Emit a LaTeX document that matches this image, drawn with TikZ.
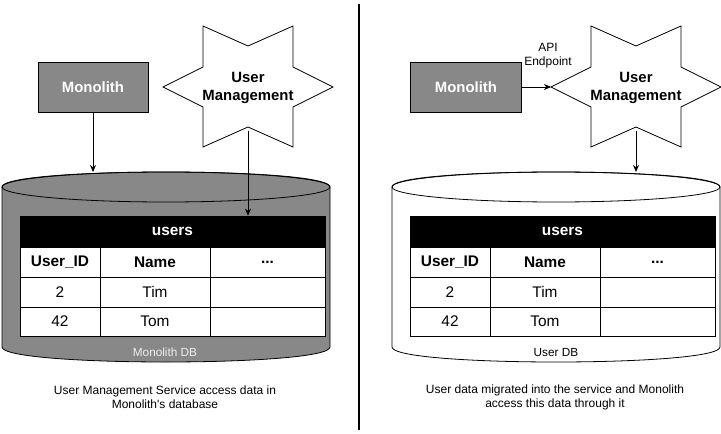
\documentclass[tikz,border=0pt]{standalone}
\usepackage{fontspec}
\setmainfont{Liberation Sans}
\usetikzlibrary{arrows.meta}
\definecolor{mgray}{RGB}{136,136,136}
\definecolor{dblabel}{RGB}{238,238,238}

\newcommand\mytable[2]{%
\begin{scope}[shift={(#2,0)}]
 \node[hdrcell, minimum width=305pt, minimum height=31pt] (#1hdr) at (172.5,231.5) {users};
 \node[cell, minimum width=80pt, minimum height=30pt, font=\tabfont\bfseries] (#1c11) at (60,262) {User\_ID};
 \node[cell, minimum width=110pt, minimum height=30pt, font=\tabfont\bfseries] (#1c12) at (155,262) {Name};
 \node[cell, minimum width=115pt, minimum height=30pt, font=\tabfont\bfseries] (#1c13) at (267.5,262) {...};
 \node[cell, minimum width=80pt, minimum height=30pt] (#1c21) at (60,292) {2};
 \node[cell, minimum width=110pt, minimum height=30pt] (#1c22) at (155,292) {Tim};
 \node[cell, minimum width=115pt, minimum height=30pt] (#1c23) at (267.5,292) {};
 \node[cell, minimum width=80pt, minimum height=29pt] (#1c31) at (60,321.5) {42};
 \node[cell, minimum width=110pt, minimum height=29pt] (#1c32) at (155,321.5) {Tom};
 \node[cell, minimum width=115pt, minimum height=29pt] (#1c33) at (267.5,321.5) {};
\end{scope}}

\newcommand\mycyl[3]{%
\begin{scope}[shift={(#2,0)}]
 \draw[fill=#3] (2,187) -- (2,347) .. controls (2,367) and (330,367) .. (330,347)
   -- (330,187) .. controls (330,167) and (2,167) .. (2,187) -- cycle;
 \draw (166,187) ellipse [x radius=164, y radius=15];
 \coordinate (#1top) at (166,172);
\end{scope}}

\newcommand\mystar[2]{%
\begin{scope}[shift={(#2,87)}]
 \draw[fill=white] (-45,-61) -- (0,-41) -- (45,-61) -- (45,-20) -- (85,0) -- (45,20)
   -- (45,60) -- (0,40) -- (-45,60) -- (-45,20) -- (-85,0) -- (-45,-20) -- cycle;
 \coordinate (#1left) at (-85,0);
 \coordinate (#1bot) at (0,44);
\end{scope}}

\newcommand\tabfont{\fontsize{15.4}{18}\selectfont}

\begin{document}
\begin{tikzpicture}[x=1pt,y=-1pt, line width=0.8pt,
  arr/.style={-{Stealth[length=7pt,width=6pt]}, line width=0.8pt},
  monobox/.style={draw, fill=mgray, text=white, font=\fontsize{14.9}{17}\selectfont\bfseries,
    minimum height=50pt, inner sep=0pt},
  startext/.style={font=\fontsize{14.9}{18}\selectfont\bfseries, align=center},
  cell/.style={draw, fill=white, inner sep=0pt, font=\tabfont},
  hdrcell/.style={draw, fill=black, text=white, inner sep=0pt, font=\tabfont\bfseries},
  caption/.style={font=\fontsize{12}{14}\selectfont, align=center},
  dbtext/.style={font=\fontsize{11.8}{14}\selectfont}
]
\useasboundingbox (0,0) rectangle (721,434);
\fill[white] (0,0) rectangle (721,434);

% ---------- left ----------
\mycyl{cylL}{0}{mgray}
\mytable{L}{0}
\node[dbtext, text=dblabel] (dbL) at (165,352) {Monolith DB};
\node[monobox, minimum width=110pt] (monoL) at (93,87) {Monolith};
\mystar{starL}{248}
\node[startext] (umL) at (248,88) {User\\Management};
\draw[arr] (monoL.south) -- (monoL.south |- cylLtop);
\draw[arr] (starLbot) -- (starLbot |- Lhdr.north);
\node[caption] (capL) at (165,397) {User Management Service access data in\\Monolith\textquotesingle s database};

% ---------- divider ----------
\coordinate (divT) at (359,4);
\coordinate (divB) at (359,430);
\draw[line width=2pt] (divT) -- (divB);

% ---------- right ----------
\mycyl{cylR}{390}{white}
\mytable{R}{390}
\node[dbtext] (dbR) at (556,352) {User DB};
\node[monobox, minimum width=111pt] (monoR) at (466,87) {Monolith};
\mystar{starR}{636}
\node[startext] (umR) at (636,88) {User\\Management};
\draw[arr] (monoR.east) -- (starRleft);
\node[caption] (api) at (548,56) {API\\Endpoint};
\draw[arr] (starRbot) -- (starRbot |- cylRtop);
\node[caption] (capR) at (555,397) {User data migrated into the service and Monolith\\access this data through it};
\end{tikzpicture}
\end{document}
